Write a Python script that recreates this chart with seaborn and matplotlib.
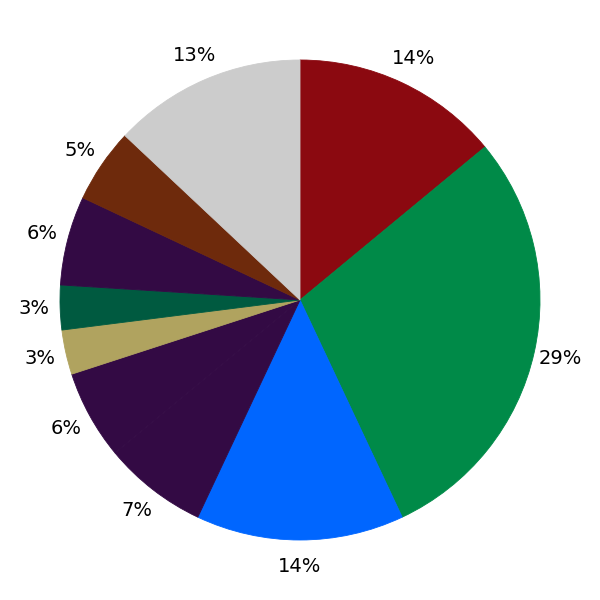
import matplotlib
matplotlib.use("Agg")
import matplotlib.pyplot as plt
import seaborn as sns

sns.set_theme(style="white")
plt.rcParams['font.family'] = ['DejaVu Sans']

# slice shares in percent, clockwise from 12 o'clock
values = [14, 29, 14, 7, 6, 3, 3, 6, 5, 13]
labels = ["14%", "29%", "14%", "7%", "6%", "3%", "3%", "6%", "5%", "13%"]
colors = ["#8b0910", "#008a48", "#0066ff", "#330a44", "#330a44",
          "#b0a35f", "#005a40", "#330a44", "#6e2a0c", "#cccccc"]

fig = plt.figure(figsize=(6, 6), dpi=100)
ax = fig.add_axes([0, 0, 1, 1])
wedges, texts = ax.pie(values, labels=labels, colors=colors, startangle=90,
                       counterclock=False, labeldistance=1.11,
                       textprops={"fontsize": 14, "color": "black"})
# hide seams between same-coloured slices
for w in wedges:
    w.set_edgecolor(w.get_facecolor())
    w.set_linewidth(0.6)
for t in texts:
    t.set_ha("center")
    t.set_va("center")
ax.set_aspect("equal")

fig.savefig("out.png", dpi=100)
